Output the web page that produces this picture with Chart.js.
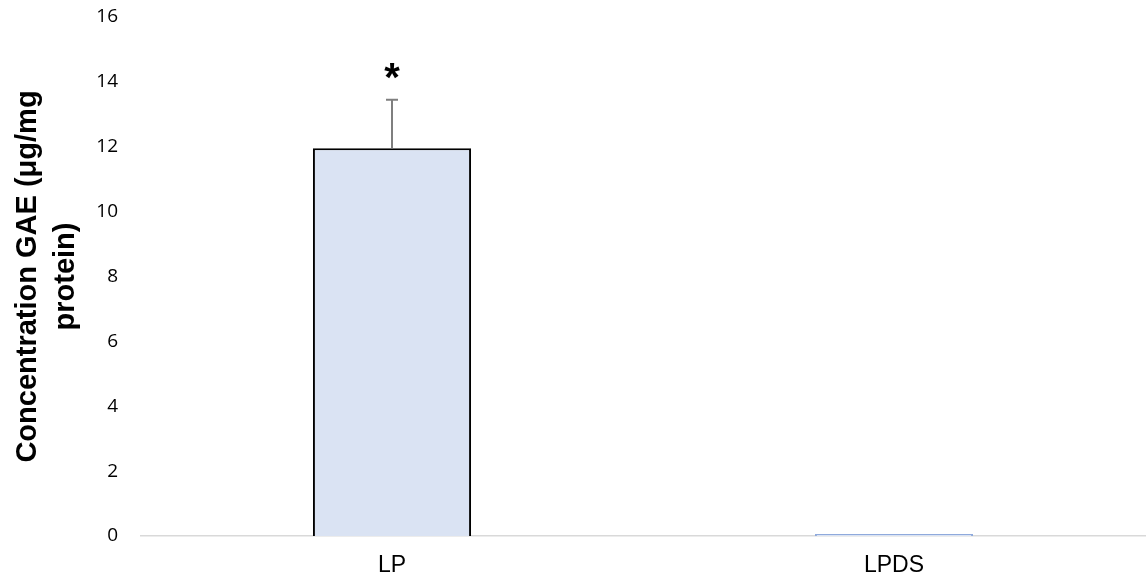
<!DOCTYPE html>
<html>
<head>
<meta charset="utf-8">
<script src="https://cdn.jsdelivr.net/npm/chart.js@4.4.1/dist/chart.umd.min.js"></script>
<style>
  html, body { margin: 0; padding: 0; background: #fff; }
  #wrap { width: 1147px; height: 588px; }
</style>
</head>
<body>
<div id="wrap"><canvas id="gaeChart" width="1147" height="588"></canvas></div>
<script>
// data
const groups = ['LP', 'LPDS'];
const means = [11.95, 0.06];
const errors = [1.5, 0];
const marks = ['*', ''];
const yTicks = [0, 2, 4, 6, 8, 10, 12, 14, 16];

// error bars + significance marks
const errorBarPlugin = {
  id: 'errorBars',
  afterDatasetsDraw(chart) {
    const ctx = chart.ctx;
    const meta = chart.getDatasetMeta(0);
    const y = chart.scales.y;
    meta.data.forEach((bar, i) => {
      const top = y.getPixelForValue(means[i] + errors[i]);
      if (errors[i] > 0) {
        ctx.save();
        ctx.strokeStyle = '#7f7f7f';
        ctx.lineWidth = 2;
        ctx.beginPath();
        ctx.moveTo(bar.x, bar.y);
        ctx.lineTo(bar.x, top);
        ctx.moveTo(bar.x - 6, top);
        ctx.lineTo(bar.x + 6, top);
        ctx.stroke();
        ctx.restore();
      }
      if (marks[i]) {
        ctx.save();
        ctx.fillStyle = '#000';
        ctx.font = 'bold 40px "Liberation Sans", Arial, sans-serif';
        ctx.textAlign = 'center';
        ctx.textBaseline = 'middle';
        ctx.fillText(marks[i], bar.x, top - 20);
        ctx.restore();
      }
    });
  }
};

const gaeConfig = {
  type: 'bar',
  data: {
    labels: groups,
    datasets: [{
      data: means,
      backgroundColor: '#dae3f3',
      borderColor: ['#000000', '#8faadc'],
      borderWidth: 2,
      categoryPercentage: 1,
      barPercentage: 0.315
    }]
  },
  options: {
    responsive: false,
    animation: false,
    layout: { padding: { top: 17, right: 2, left: 0, bottom: 0 } },
    plugins: { legend: { display: false }, tooltip: { enabled: false } },
    scales: {
      x: {
        afterFit: (axis) => { axis.height = 52; },
        grid: { display: false },
        border: { display: true, color: '#d9d9d9', width: 1.5 },
        ticks: {
          color: '#000',
          padding: 8,
          font: { family: '"Liberation Sans", Arial, sans-serif', size: 23 }
        }
      },
      y: {
        min: 0,
        max: 16,
        afterBuildTicks: (axis) => { axis.ticks = yTicks.map(v => ({ value: v })); },
        afterFit: (axis) => {
          axis.width = 141;
          axis.paddingTop = 0;
          axis.paddingBottom = 0;
        },
        grid: { display: false },
        border: { display: false },
        ticks: {
          color: '#000',
          padding: 15,
          font: { family: '"Open Sans", Carlito, sans-serif', size: 19 }
        },
        title: {
          display: true,
          text: ['Concentration GAE (μg/mg', 'protein)'],
          color: '#000',
          padding: { top: 9, bottom: 0 },
          font: { family: '"Liberation Sans", Arial, sans-serif', size: 29, weight: 'bold', lineHeight: 1.3 }
        }
      }
    }
  },
  plugins: [errorBarPlugin]
};

new Chart(document.getElementById('gaeChart'), gaeConfig);
</script>
</body>
</html>
